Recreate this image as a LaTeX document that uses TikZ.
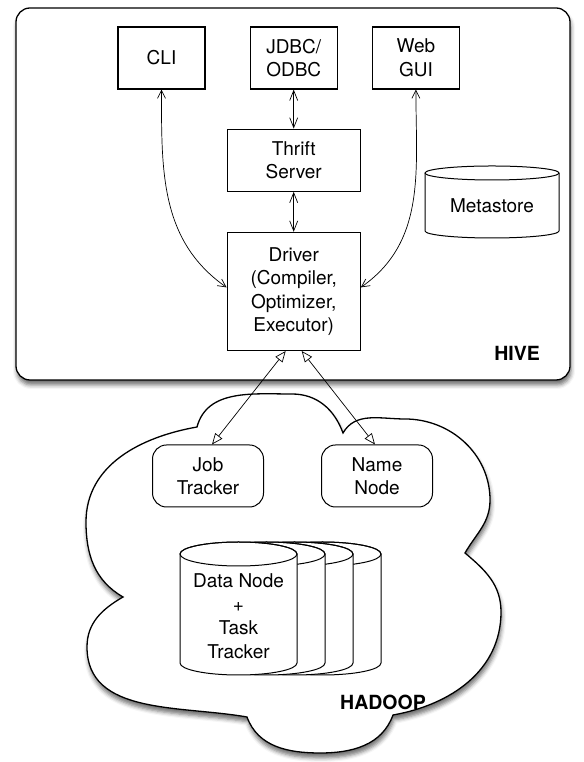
\documentclass[tikz,border=0pt]{standalone}
\usepackage{fontspec}
\setmainfont{TeX Gyre Heros}
\usetikzlibrary{positioning,arrows.meta,shadows.blur}

\begin{document}
\begin{tikzpicture}[
x=1pt, y=1pt,
>={Straight Barb[length=8pt,width=8pt]},
font=\fontsize{19}{23.5}\selectfont,
boxnode/.style={rectangle, draw=black, line width=1.2pt, fill=white, align=center, inner sep=0pt, minimum width=87pt, minimum height=62pt},
bignode/.style={boxnode, minimum width=133pt},
trackernode/.style={rectangle, rounded corners=14pt, draw=black, line width=1pt, fill=white, align=center, inner sep=0pt, minimum width=111pt, minimum height=62pt},
textnode/.style={align=center, inner sep=0pt},
labelnode/.style={font=\fontsize{19.5}{23.5}\selectfont\bfseries, inner sep=0pt},
link/.style={<->, line width=0.7pt},
shortlink/.style={{Straight Barb[length=10pt,width=8pt]}-{Straight Barb[length=10pt,width=8pt]}, line width=0.7pt},
hadooplink/.style={{Triangle[open,length=11pt,width=9pt]}-{Triangle[open,length=11pt,width=9pt]}, line width=0.7pt},
shade/.style={blur shadow={shadow xshift=1pt, shadow yshift=-5pt, shadow blur radius=4pt, shadow opacity=55}},
]
\useasboundingbox (0,0) rectangle (583,762);

%Frames
\draw[line width=1.3pt, rounded corners=14pt, fill=white, shade] (16,382) rectangle (570,754);
\draw[line width=1.3pt, fill=white, shade]
  (197,335) to[out=75,in=180] (292,368) to[out=0,in=110] (343,329)
  to[out=60,in=180] (405,343) to[out=0,in=90] (490,262) to[out=-90,in=60] (465,209)
  to[out=-40,in=90] (501,150) to[out=-90,in=10] (393,47)
  to[out=-110,in=0] (320,9) to[out=180,in=-70] (247,45)
  to[out=170,in=-90] (87,115) to[out=90,in=-150] (123,165)
  to[out=150,in=-90] (86,240) to[out=90,in=-170] (197,335) -- cycle;

%Cylinders
\draw[line width=1pt, fill=white] (425,589) -- (425,531) arc[start angle=180, end angle=360, x radius=67, y radius=7] -- (559,589);
\draw[line width=1pt] (492,589) ellipse [x radius=67, y radius=7];
\foreach \dx in {84,56,28,0} {
  \draw[line width=1pt, fill=white] (180+\dx,208) -- (180+\dx,99) arc[start angle=180, end angle=360, x radius=58.5, y radius=12] -- (297+\dx,208) arc[start angle=0, end angle=180, x radius=58.5, y radius=12];
  \draw[line width=1pt] (238.5+\dx,208) ellipse [x radius=58.5, y radius=12];
}

%Nodes
\node[boxnode]      (cli)        at (161.5,704)             {CLI};
\node[boxnode]      (jdbc)       [right=44pt of cli]        {JDBC/\\ODBC};
\node[boxnode]      (web)        [right=34pt of jdbc]       {Web\\GUI};
\node[bignode]      (thrift)     [below=39pt of jdbc]       {Thrift\\Server};
\node[bignode, minimum height=118pt] (driver) [below=40pt of thrift] {Driver\\(Compiler,\\Optimizer,\\Executor)};
\node[textnode]     (metastore)  at (492,556)               {Metastore};
\node[labelnode]    (hive)       at (517,409)               {HIVE};
\node[trackernode]  (jobtracker) at (208,286)               {Job\\Tracker};
\node[trackernode]  (namenode)   [right=57pt of jobtracker] {Name\\Node};
\node[textnode]     (datanode)   at (238.5,146)             {Data Node\\+\\Task\\Tracker};
\node[labelnode]    (hadoop)     at (383,60)                {HADOOP};

%Lines
\draw[link] (cli.south) to[out=-90,in=145] ([yshift=4pt]driver.west);
\draw[link] (web.south) to[out=-90,in=35] ([yshift=4pt]driver.east);
\draw[shortlink] (jdbc.south) -- (thrift.north);
\draw[shortlink] (thrift.south) -- (driver.north);
\draw[hadooplink] ([xshift=-8pt]driver.south) -- ([xshift=4pt]jobtracker.north);
\draw[hadooplink] ([xshift=8pt]driver.south) -- ([xshift=-2pt]namenode.north);

\end{tikzpicture}
\end{document}
